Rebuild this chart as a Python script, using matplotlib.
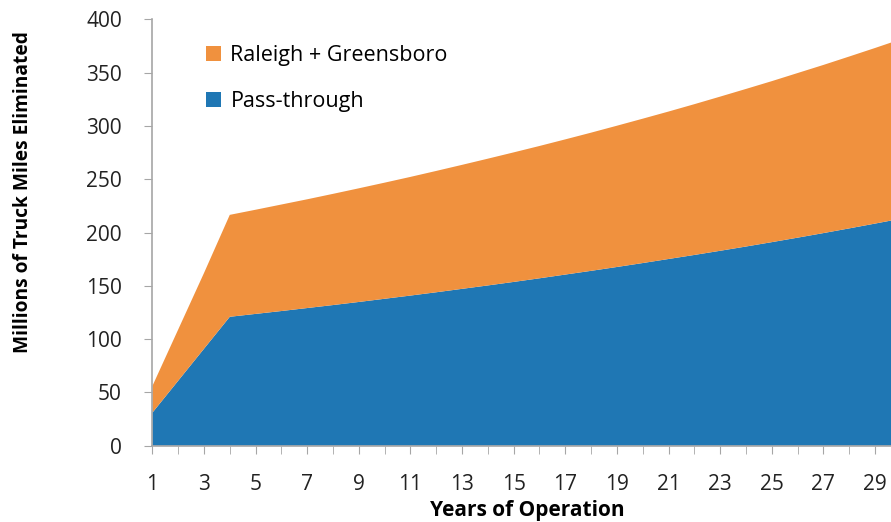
import matplotlib
matplotlib.use("Agg")
import matplotlib.pyplot as plt
from matplotlib.patches import Patch
from matplotlib.ticker import MultipleLocator, FixedLocator

years = list(range(1, 31))
pass_through = [31, 61, 91, 121.0, 123.7, 126.4, 129.2, 132.0, 134.9, 137.9,
                140.9, 144.0, 147.2, 150.4, 153.7, 157.1, 160.6, 164.1, 167.7, 171.4,
                175.2, 179.0, 182.9, 186.9, 191.0, 195.2, 199.5, 203.9, 208.4, 213.0]
raleigh_greensboro = [25, 48, 71, 95.6, 97.7, 99.9, 102.0, 104.3, 106.6, 108.9,
                      111.3, 113.8, 116.3, 118.9, 121.5, 124.1, 126.8, 129.6, 132.5, 135.4,
                      138.3, 141.4, 144.6, 147.8, 151.0, 154.4, 157.7, 161.2, 164.7, 168.3]
series_labels = ["Pass-through", "Raleigh + Greensboro"]
colors = ["#1F77B4", "#F0913E"]
xtick_labels = [str(y) for y in range(1, 30, 2)]

plt.rcParams['font.family'] = ['Open Sans', 'DejaVu Sans']

fig = plt.figure(figsize=(8.91, 5.22), dpi=100)
ax = fig.add_axes([0.171, 0.146, 0.829, 0.817])

ax.stackplot(years, pass_through, raleigh_greensboro, colors=colors, linewidth=0)

ax.set_xlim(1, 29.62)
ax.set_ylim(0, 400)
ax.yaxis.set_major_locator(MultipleLocator(50))
ax.xaxis.set_major_locator(FixedLocator(list(range(1, 30, 2))))
ax.xaxis.set_minor_locator(FixedLocator(list(range(2, 31, 2))))
ax.set_xticklabels(xtick_labels)

for s in ['top', 'right']:
    ax.spines[s].set_visible(False)
for s in ['left', 'bottom']:
    ax.spines[s].set_color('#A6A6A6')
    ax.spines[s].set_linewidth(1.2)

ax.tick_params(axis='both', which='both', color='#A6A6A6', direction='out')
ax.tick_params(axis='y', length=6, labelsize=15, labelcolor='#222222', pad=16)
ax.tick_params(axis='x', which='major', length=6, labelsize=15, labelcolor='#222222', pad=14)
ax.tick_params(axis='x', which='minor', length=6)

ax.set_ylabel("Millions of Truck Miles Eliminated", fontsize=13.8, fontweight='bold')
ax.yaxis.set_label_coords(-0.161, 0.595)
ax.set_xlabel("Years of Operation", fontsize=15, fontweight='bold')
ax.xaxis.set_label_coords(0.507, -0.127)

handles = [Patch(facecolor=colors[1], edgecolor='none'), Patch(facecolor=colors[0], edgecolor='none')]
ax.legend(handles, [series_labels[1], series_labels[0]], loc='upper left',
          bbox_to_anchor=(0.046, 0.985), frameon=False, fontsize=15.5,
          handlelength=0.7, handleheight=0.7, handletextpad=0.45, labelspacing=1.15)

fig.savefig("out.png", dpi=100)
